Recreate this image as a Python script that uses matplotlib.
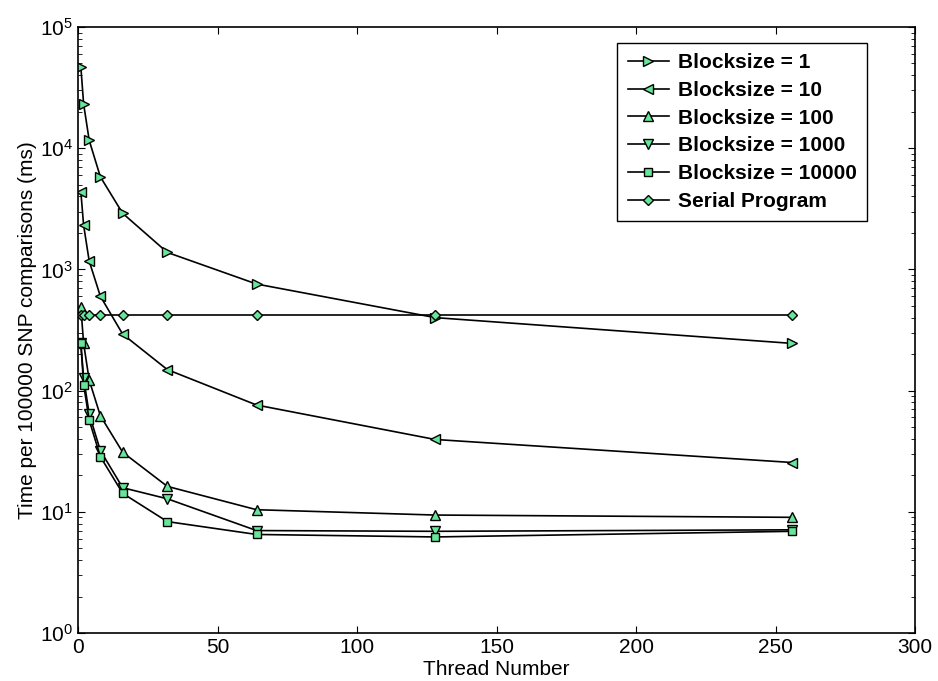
import matplotlib
matplotlib.use("Agg")
import matplotlib.pyplot as plt
from matplotlib.ticker import LogLocator, NullFormatter, MultipleLocator

plt.rcParams['font.family'] = ['Liberation Sans', 'DejaVu Sans']
plt.rcParams['mathtext.fontset'] = 'custom'
plt.rcParams['mathtext.rm'] = 'Liberation Sans'

# thread counts used in the runs
threads = [1, 2, 4, 8, 16, 32, 64, 128, 256]

# time per 100000 SNP comparisons (ms)
bs1 = [47000, 23200, 11600, 5800, 2900, 1380, 757, 400, 245]
bs10 = [4380, 2310, 1170, 600, 292, 149, 76, 39.5, 25.5]
bs100 = [490, 245, 122, 62, 31, 16.2, 10.4, 9.4, 9.0]
bs1000 = [245, 127, 64, 32, 15.8, 12.8, 7.0, 6.9, 7.1]
bs10000 = [245, 112, 57, 28.5, 14.2, 8.3, 6.5, 6.2, 6.9]
serial = [420, 420, 420, 420, 420, 420, 420, 420, 420]

labels = ["Blocksize = 1", "Blocksize = 10", "Blocksize = 100",
          "Blocksize = 1000", "Blocksize = 10000", "Serial Program"]
markers = [">", "<", "^", "v", "s", "D"]
msizes = [7, 7, 7, 7, 6, 5.5]
series = [bs1, bs10, bs100, bs1000, bs10000, serial]

fill = "#66E699"

fig = plt.figure(figsize=(9.38, 6.81), dpi=100)
ax = fig.add_axes([0.0832, 0.0705, 0.8923, 0.8899])

for y, lab, m, ms in zip(series, labels, markers, msizes):
    ax.plot(threads, y, color="black", lw=1.2, marker=m, markersize=ms,
            markerfacecolor=fill, markeredgecolor="black", markeredgewidth=1.0,
            label=lab)

ax.set_yscale("log")
ax.set_xlim(0, 300)
ax.set_ylim(1, 1e5)
ax.xaxis.set_major_locator(MultipleLocator(50))
ax.yaxis.set_major_locator(LogLocator(base=10, numticks=10))
ax.yaxis.set_minor_locator(LogLocator(base=10, subs=range(2, 10), numticks=20))
ax.yaxis.set_minor_formatter(NullFormatter())

ax.tick_params(which="both", direction="in", top=True, right=True, labelsize=15)
ax.tick_params(which="major", length=5)
ax.tick_params(which="minor", length=3)
for s in ax.spines.values():
    s.set_linewidth(1.2)

ax.set_xlabel("Thread Number", fontsize=15, labelpad=2)
ax.set_ylabel("Time per 100000 SNP comparisons (ms)", fontsize=15, labelpad=2)

leg = ax.legend(loc="upper right", bbox_to_anchor=(0.9425, 0.974), numpoints=1,
                frameon=True, fancybox=False, framealpha=1, edgecolor="black",
                prop={"weight": "bold", "size": 15}, handlelength=2.0,
                handletextpad=0.4, labelspacing=0.42, borderpad=0.5,
                borderaxespad=0)
leg.get_frame().set_linewidth(1.0)

fig.savefig("out.png", dpi=100)
